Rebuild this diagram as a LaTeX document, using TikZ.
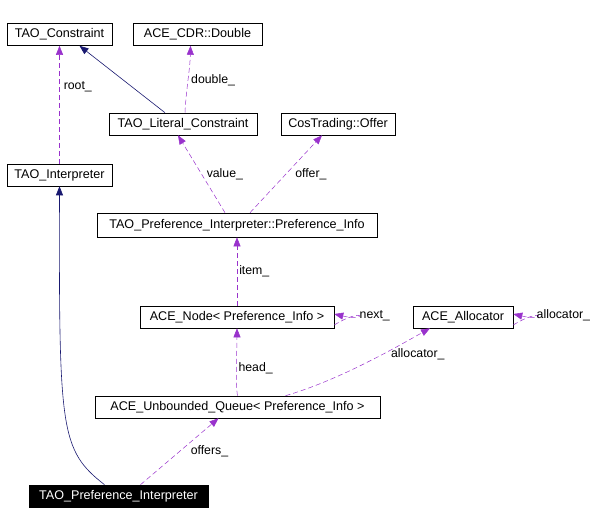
\documentclass[tikz,border=0pt]{standalone}
\usepackage{fontspec}
\setmainfont{Liberation Sans}
\usetikzlibrary{arrows.meta}
\definecolor{pur}{RGB}{153,50,204}
\definecolor{nav}{RGB}{25,25,112}
\begin{document}
\begin{tikzpicture}[x=1pt,y=-1pt,
 box/.style={draw,line width=0.6pt,inner sep=0pt,minimum height=22pt,font=\fontsize{12.6}{14}\selectfont},
 use/.style={pur,dash pattern=on 5pt off 3pt,line width=0.5pt,-{Triangle[length=9pt,width=7pt]}},
 inh/.style={nav,line width=0.6pt,-{Triangle[length=9pt,width=7pt]}},
 lab/.style={black,font=\fontsize{12.3}{14}\selectfont,inner sep=1pt}]
\useasboundingbox (0,0) rectangle (600,526);
\node[box,minimum width=105pt] (tc) at (59.5,34.5) {TAO\_Constraint};
\node[box,minimum width=129pt] (dbl) at (197.5,34.5) {ACE\_CDR::Double};
\node[box,minimum width=148pt] (lit) at (183,124) {TAO\_Literal\_Constraint};
\node[box,minimum width=114pt] (off) at (338,124) {CosTrading::Offer};
\node[box,minimum width=105pt] (ti) at (59.5,175) {TAO\_Interpreter};
\node[box,minimum width=280pt,minimum height=24pt] (pi) at (237,225) {TAO\_Preference\_Interpreter::Preference\_Info};
\node[box,minimum width=194pt] (node) at (237,317) {ACE\_Node< Preference\_Info >};
\node[box,minimum width=100pt] (alloc) at (463,317) {ACE\_Allocator};
\node[box,minimum width=285pt] (q) at (237.5,407) {ACE\_Unbounded\_Queue< Preference\_Info >};
\node[box,minimum width=179pt,fill=black,text=white] (tpi) at (118.5,496) {TAO\_Preference\_Interpreter};

\draw[use] (ti.north) -- (tc.south) node[lab,pos=0.65,right=3pt] {root\_};
\draw[inh] ([xshift=-18pt]lit.north) -- ([xshift=20pt]tc.south);
\draw[use] ([xshift=2pt]lit.north) .. controls (186,90) and (190,70) .. ([xshift=-7pt]dbl.south) node[lab,pos=0.5,right=2pt] {double\_};
\draw[use] ([xshift=-12pt]pi.north) -- ([xshift=-5pt]lit.south) node[lab,pos=0.5,right=4pt] {value\_};
\draw[use] ([xshift=13pt]pi.north) -- ([xshift=-16pt]off.south) node[lab,pos=0.5,right=8pt] {offer\_};
\draw[use] (node.north) -- (pi.south) node[lab,pos=0.5,right=1pt] {item\_};
\draw[use] ([yshift=-8pt]node.east) .. controls (365,306) and (368,322) .. ([yshift=3pt]node.east) node[lab,pos=0.5,right=0pt] {next\_};
\draw[use] ([yshift=-8pt]alloc.east) .. controls (544,306) and (547,322) .. ([yshift=3pt]alloc.east) node[lab,pos=0.5,right=-2pt] {allocator\_};
\draw[use] (q.north) .. controls (235,380) and (237,350) .. (node.south) node[lab,pos=0.45,right=1pt] {head\_};
\draw[use] ([xshift=48pt]q.north) .. controls (340,380) and (400,345) .. ([xshift=-33pt]alloc.south) node[lab,pos=0.6,right=8pt] {allocator\_};
\draw[inh] ([xshift=-14pt]tpi.north) .. controls (60,450) and (59,430) .. (ti.south);
\draw[use] ([xshift=22pt]tpi.north) -- ([xshift=-19pt]q.south) node[lab,pos=0.5,right=10pt] {offers\_};
\end{tikzpicture}
\end{document}
